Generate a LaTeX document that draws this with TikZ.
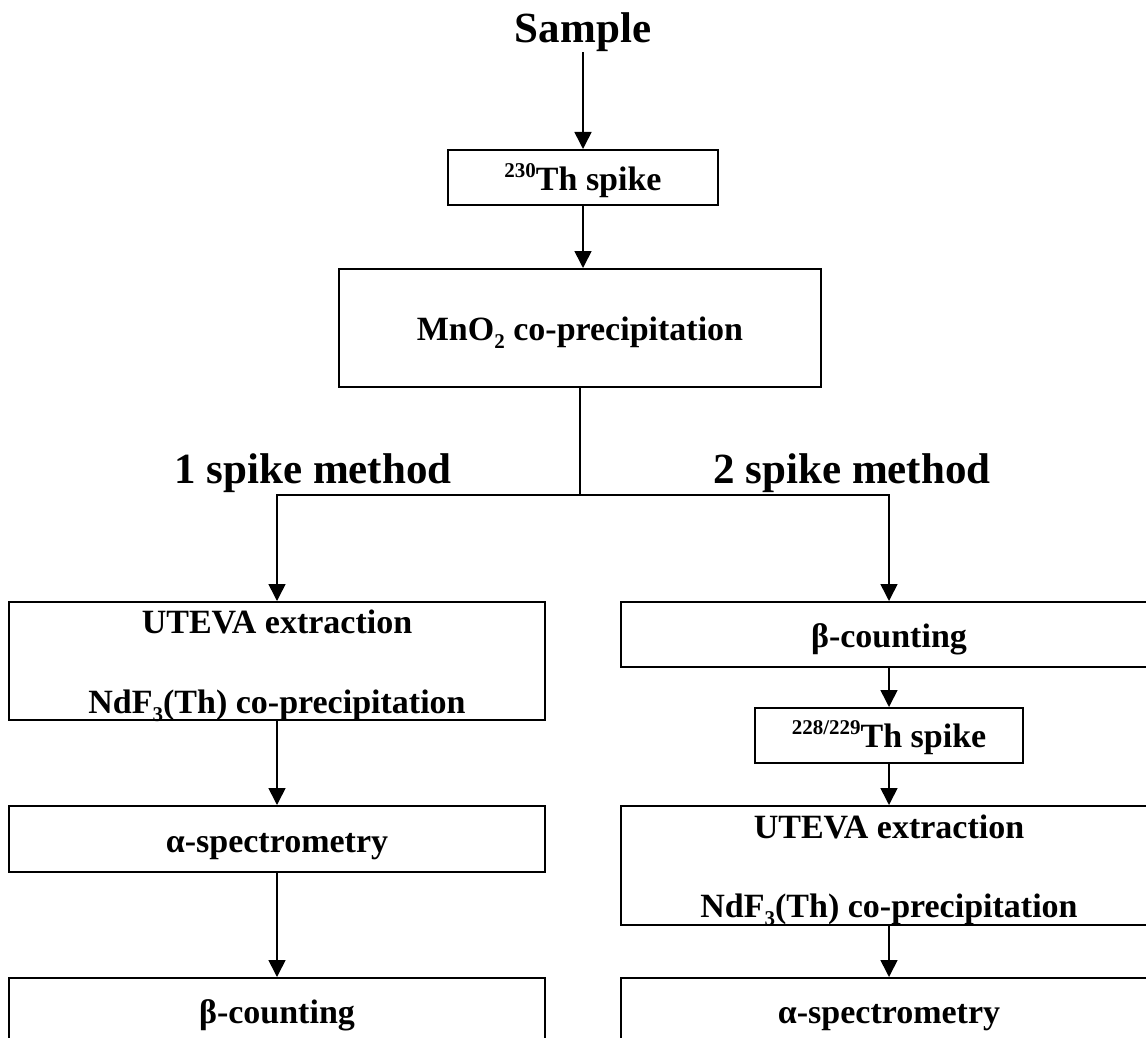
\documentclass[tikz,border=0pt]{standalone}
\usepackage{fontspec}
\setmainfont{Liberation Serif}
\usetikzlibrary{arrows.meta}
\newcommand\mysup[1]{\raisebox{0.36em}{\fontsize{21}{21}\selectfont #1}}
\newcommand\mysub[1]{\raisebox{-0.26em}{\fontsize{21}{21}\selectfont #1}}
\begin{document}
\begin{tikzpicture}[x=1pt,y=-1pt,
  box/.style={draw, line width=2pt, inner sep=0pt},
  txt/.style={inner sep=0pt, anchor=base, font=\fontsize{34}{40}\selectfont\bfseries},
  big/.style={inner sep=0pt, anchor=base, font=\fontsize{43}{50}\selectfont\bfseries},
  arr/.style={line width=1.6pt, -{Triangle[length=17pt,width=17pt]}},
  ln/.style={line width=1.6pt}]
\useasboundingbox (0,0) rectangle (1146,1038);
% boxes
\node[box, minimum width=270pt, minimum height=55pt] (th230) at (583,177.5) {};
\node[box, minimum width=482pt, minimum height=118pt] (mno2) at (580,328) {};
\node[box, minimum width=536pt, minimum height=118pt] (utevaL) at (277,661) {};
\node[box, minimum width=536pt, minimum height=66pt] (alphaL) at (277,839) {};
\node[box, minimum width=536pt, minimum height=92pt] (betaL) at (277,1024) {};
\node[box, minimum width=536pt, minimum height=65pt] (betaR) at (889,634.5) {};
\node[box, minimum width=268pt, minimum height=55pt] (th228) at (889,735.5) {};
\node[box, minimum width=536pt, minimum height=119pt] (utevaR) at (889,865.5) {};
\node[box, minimum width=536pt, minimum height=92pt] (alphaR) at (889,1024) {};
% texts
\node[big] (sample) at (583,43) {Sample};
\node[txt] (t230) at (583,190) {\mysup{230}Th spike};
\node[txt] (tmno2) at (580,340) {MnO\mysub{2} co-precipitation};
\node[big] (m1) at (313,483) {1 spike method};
\node[big] (m2) at (852,483) {2 spike method};
\node[txt] (tuL1) at (277,633) {UTEVA extraction};
\node[txt] (tuL2) at (277,713) {NdF\mysub{3}(Th) co-precipitation};
\node[txt] (taL) at (277,852) {α-spectrometry};
\node[txt] (tbL) at (277,1023) {β-counting};
\node[txt] (tbR) at (889,647) {β-counting};
\node[txt] (t228) at (889,747) {\mysup{228/229}Th spike};
\node[txt] (tuR1) at (889,838) {UTEVA extraction};
\node[txt] (tuR2) at (889,917) {NdF\mysub{3}(Th) co-precipitation};
\node[txt] (taR) at (889,1023) {α-spectrometry};
% connectors
\coordinate (split) at (580,495);
\draw[arr] (sample.south) -- (th230.north);
\draw[arr] (th230.south) -- (th230.south |- mno2.north);
\draw[ln] (mno2.south) -- (split);
\draw[arr] (split) -| (utevaL.north);
\draw[arr] (split) -| (betaR.north);
\draw[arr] (utevaL.south) -- (alphaL.north);
\draw[arr] (alphaL.south) -- (betaL.north);
\draw[arr] (betaR.south) -- (th228.north);
\draw[arr] (th228.south) -- (utevaR.north);
\draw[arr] (utevaR.south) -- (alphaR.north);
\end{tikzpicture}
\end{document}
